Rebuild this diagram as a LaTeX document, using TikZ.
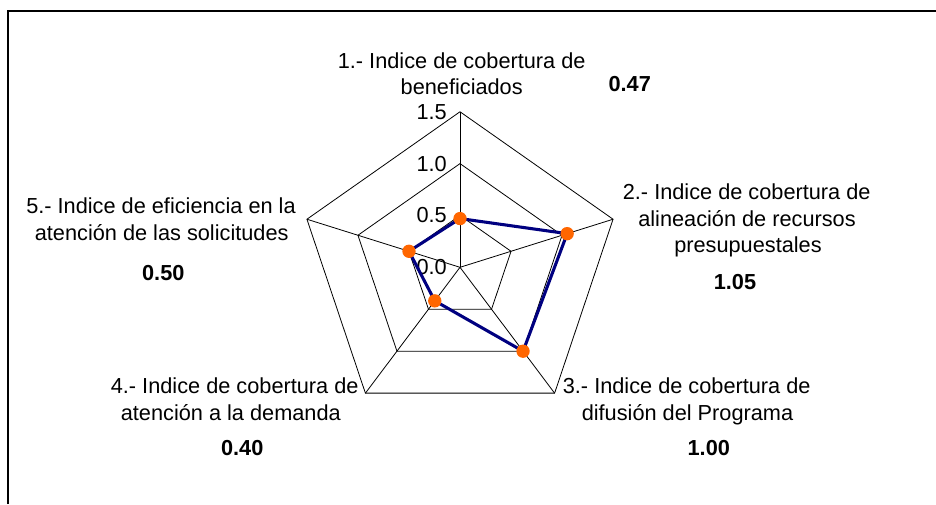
\documentclass[tikz,border=0pt]{standalone}
\usepackage{fontspec}
\setmainfont{Liberation Sans}
\definecolor{navyline}{RGB}{0,0,128}
\definecolor{dotorange}{RGB}{255,102,0}
\begin{document}
\begin{tikzpicture}[x=0.75pt,y=-0.75pt,
  font=\fontsize{16.3}{19.5}\selectfont,
  gridline/.style={draw=black, line width=0.6pt, line join=miter},
  dataline/.style={draw=navyline, line width=2.3pt, line join=round},
  marker/.style={circle, fill=dotorange, draw=none, inner sep=0pt, minimum size=10pt},
  lbl/.style={anchor=base, inner sep=0pt},
  val/.style={anchor=base, inner sep=0pt, font=\fontsize{16.3}{19.5}\selectfont\bfseries},
  ticklbl/.style={anchor=east, inner sep=0pt},
  frameline/.style={draw=black, line width=0.9pt}]
\useasboundingbox (0,0) rectangle (936,504);
\fill[white] (0,0) rectangle (936,504);
% frame (only top and left edges visible)
\coordinate (fbl) at (8,504);
\coordinate (ftl) at (8,11);
\coordinate (ftr) at (936,11);
\draw[frameline] (fbl) -- (ftl) -- (ftr);
% grid coordinates
\coordinate (c) at (460,267.3);
\foreach \i/\a in {1/90,2/18,3/-54,4/-126,5/162}{
  \foreach \k/\r in {1/0.5,2/1.0,3/1.5}{
    \coordinate (g\i\k) at ({460+\r*107.3*cos(\a)},{267.3-\r*103.7*sin(\a)});
  }
}
\foreach \k in {1,2,3}
  \draw[gridline] (g1\k) -- (g2\k) -- (g3\k) -- (g4\k) -- (g5\k) -- cycle;
\foreach \i in {1,...,5}
  \draw[gridline] (c) -- (g\i3);
% tick labels
\node[ticklbl] (t0) at (447,267.3) {0.0};
\node[ticklbl] (t1) at (447,215.45) {0.5};
\node[ticklbl] (t2) at (447,163.6) {1.0};
\node[ticklbl] (t3) at (447,111.75) {1.5};
% data
\foreach \i/\a/\r in {1/90/0.47,2/18/1.05,3/-54/1.00,4/-126/0.40,5/162/0.50}{
  \coordinate (d\i) at ({460+\r*107.3*cos(\a)},{267.3-\r*103.7*sin(\a)});
}
\draw[dataline] (d1) -- (d2) -- (d3) -- (d4) -- (d5) -- cycle;
\foreach \i in {1,...,5}
  \node[marker] (p\i) at (d\i) {};
% axis labels
\node[lbl] (l1a) at (461.7,68) {1.- Indice de cobertura de};
\node[lbl] (l1b) at (461.7,94.8) {beneficiados};
\node[val] (v1) at (629.7,91.7) {0.47};
\node[lbl] (l2a) at (746.7,199.3) {2.- Indice de cobertura de};
\node[lbl] (l2b) at (747,226.1) {alineación de recursos};
\node[lbl] (l2c) at (748,252.9) {presupuestales};
\node[val] (v2) at (735,289.3) {1.05};
\node[lbl] (l3a) at (686.7,393.3) {3.- Indice de cobertura de};
\node[lbl] (l3b) at (687.5,420.1) {difusión del Programa};
\node[val] (v3) at (708.8,455) {1.00};
\node[lbl] (l4a) at (234.7,393.3) {4.- Indice de cobertura de};
\node[lbl] (l4b) at (230.8,420.1) {atención a la demanda};
\node[val] (v4) at (242.2,455) {0.40};
\node[lbl] (l5a) at (161,213.3) {5.- Indice de eficiencia en la};
\node[lbl] (l5b) at (161.7,240.1) {atención de las solicitudes};
\node[val] (v5) at (163.3,280) {0.50};
\end{tikzpicture}
\end{document}
